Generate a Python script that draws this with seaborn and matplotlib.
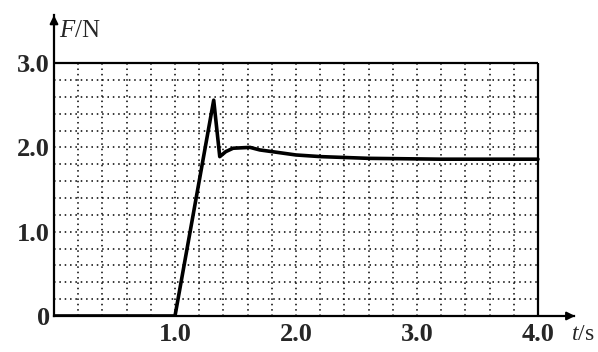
import numpy as np
import pandas as pd
import matplotlib
matplotlib.use("Agg")
import matplotlib.pyplot as plt
import seaborn as sns

# values
t_vals = [0.0, 1.0, 1.32, 1.37, 1.42, 1.48, 1.62, 1.70, 1.85, 2.0, 2.21, 2.6, 3.2, 3.6, 4.0]
f_vals = [0.0, 0.0, 2.56, 1.89, 1.95, 1.99, 2.0, 1.97, 1.94, 1.91, 1.89, 1.87, 1.86, 1.86, 1.86]
y_ticks = [0.0, 1.0, 2.0, 3.0]
y_labels = ["0", "1.0", "2.0", "3.0"]
x_ticks = [1.0, 2.0, 3.0, 4.0]
x_labels = ["1.0", "2.0", "3.0", "4.0"]

sns.set_style("white")
plt.rcParams['font.family'] = ['Liberation Serif', 'DejaVu Serif']
plt.rcParams['mathtext.fontset'] = 'custom'
plt.rcParams['mathtext.rm'] = 'Liberation Serif'
plt.rcParams['mathtext.it'] = 'Liberation Serif:italic'

df = pd.DataFrame({"t": t_vals, "F": f_vals})

fig = plt.figure(figsize=(5.98, 3.52), dpi=100)
ax = fig.add_axes([0.0903, 0.1023, 0.870, 0.855])

# dotted grid inside the box
for gx in np.arange(0.2, 4.0, 0.2):
    ax.vlines(gx, 0, 3.0, colors="black", linestyles=(0, (1, 2.5)), linewidth=1.1)
for gy in np.arange(0.2, 3.0, 0.2):
    ax.hlines(gy, 0, 4.0, colors="black", linestyles=(0, (1, 2.5)), linewidth=1.1)

ax.hlines(3.0, 0, 4.0, colors="black", linewidth=1.6)
ax.vlines(4.0, 0, 3.0, colors="black", linewidth=1.6)

sns.lineplot(data=df, x="t", y="F", ax=ax, color="black", linewidth=2.6, sort=False)

ax.set_xlim(0, 4.3)
ax.set_ylim(0, 3.57)
for s in ["top", "right"]:
    ax.spines[s].set_visible(False)
for s in ["left", "bottom"]:
    ax.spines[s].set_linewidth(1.6)
    ax.spines[s].set_color("black")

# axis arrows
ax.annotate("", xy=(4.33, 0), xytext=(4.2, 0),
            arrowprops=dict(arrowstyle="-|>", color="black", lw=1.5, mutation_scale=12),
            annotation_clip=False)
ax.annotate("", xy=(0, 3.6), xytext=(0, 3.45),
            arrowprops=dict(arrowstyle="-|>", color="black", lw=1.5, mutation_scale=12),
            annotation_clip=False)

ax.set_xticks(x_ticks)
ax.set_xticklabels(x_labels, fontsize=19, fontweight="bold")
ax.set_yticks(y_ticks)
ax.set_yticklabels(y_labels, fontsize=19, fontweight="bold")
ax.tick_params(axis="both", length=0, pad=3)
ax.tick_params(axis="x", pad=5)
ax.set_xlabel("")
ax.set_ylabel("")

ax.text(0.04, 3.38, "$F$/N", fontsize=18, ha="left", va="center")
ax.text(4.27, -0.22, "$t$/s", fontsize=17, ha="left", va="center", clip_on=False)

fig.savefig("out.png", dpi=100)
